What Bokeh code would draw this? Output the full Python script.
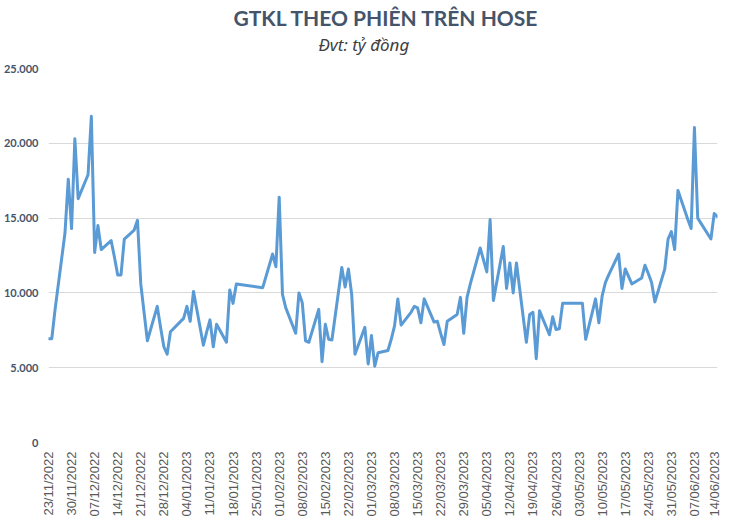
import math
import pandas as pd
from bokeh.plotting import figure
from bokeh.models import Range1d, FixedTicker, Title, ColumnDataSource, AllLabels
from bokeh.embed import file_html
from bokeh.resources import INLINE

# ---- data (tỷ đồng per session) ----
dates = [
    "23/11/2022", "24/11/2022", "25/11/2022", "28/11/2022", "29/11/2022", "30/11/2022",
    "01/12/2022", "02/12/2022", "05/12/2022", "06/12/2022", "07/12/2022", "08/12/2022",
    "09/12/2022", "12/12/2022", "13/12/2022", "14/12/2022", "15/12/2022", "16/12/2022",
    "19/12/2022", "20/12/2022", "21/12/2022", "22/12/2022", "23/12/2022", "26/12/2022",
    "27/12/2022", "28/12/2022", "29/12/2022", "30/12/2022", "03/01/2023", "04/01/2023",
    "05/01/2023", "06/01/2023", "09/01/2023", "10/01/2023", "11/01/2023", "12/01/2023",
    "13/01/2023", "16/01/2023", "17/01/2023", "18/01/2023", "19/01/2023", "27/01/2023",
    "30/01/2023", "31/01/2023", "01/02/2023", "02/02/2023", "03/02/2023", "06/02/2023",
    "07/02/2023", "08/02/2023", "09/02/2023", "10/02/2023", "13/02/2023", "14/02/2023",
    "15/02/2023", "16/02/2023", "17/02/2023", "20/02/2023", "21/02/2023", "22/02/2023",
    "23/02/2023", "24/02/2023", "27/02/2023", "28/02/2023", "01/03/2023", "02/03/2023",
    "03/03/2023", "06/03/2023", "07/03/2023", "08/03/2023", "09/03/2023", "10/03/2023",
    "13/03/2023", "14/03/2023", "15/03/2023", "16/03/2023", "17/03/2023", "20/03/2023",
    "21/03/2023", "22/03/2023", "23/03/2023", "24/03/2023", "27/03/2023", "28/03/2023",
    "29/03/2023", "30/03/2023", "31/03/2023", "03/04/2023", "04/04/2023", "05/04/2023",
    "06/04/2023", "07/04/2023", "10/04/2023", "11/04/2023", "12/04/2023", "13/04/2023",
    "14/04/2023", "17/04/2023", "18/04/2023", "19/04/2023", "20/04/2023", "21/04/2023",
    "24/04/2023", "25/04/2023", "26/04/2023", "27/04/2023", "28/04/2023", "04/05/2023",
    "05/05/2023", "08/05/2023", "09/05/2023", "10/05/2023", "11/05/2023", "12/05/2023",
    "15/05/2023", "16/05/2023", "17/05/2023", "18/05/2023", "19/05/2023", "22/05/2023",
    "23/05/2023", "24/05/2023", "25/05/2023", "26/05/2023", "29/05/2023", "30/05/2023",
    "31/05/2023", "01/06/2023", "02/06/2023", "05/06/2023", "06/06/2023", "07/06/2023",
    "08/06/2023", "09/06/2023", "12/06/2023", "13/06/2023", "14/06/2023",
]
values = [
    6940, 6940, 8900, 14000, 17600, 14300,
    20300, 16300, 17900, 21800, 12700, 14500,
    12900, 13500, 12400, 11200, 11200, 13600,
    14200, 14850, 10600, 8700, 6800, 9100,
    7700, 6400, 5900, 7400, 8300, 9100,
    8100, 10100, 6500, 7400, 8200, 6400,
    7900, 6700, 10200, 9300, 10600, 10350,
    12600, 11750, 16400, 9900, 9000, 7300,
    10000, 9350, 6800, 6700, 8900, 5400,
    7900, 6900, 6850, 11700, 10400, 11600,
    9900, 5900, 7700, 5250, 7150, 5100,
    6000, 6150, 6900, 7800, 9600, 7850,
    8700, 9100, 9000, 8000, 9600, 8050,
    8100, 7300, 6550, 8100, 8550, 9700,
    7300, 9700, 10600, 13000, 12200, 11400,
    14900, 9500, 13100, 10300, 12000, 10000,
    12000, 6700, 8550, 8700, 5600, 8800,
    7200, 8400, 7550, 7600, 9300, 9300,
    6900, 9600, 8000, 9800, 10700, 11200,
    12600, 10300, 11600, 11100, 10600, 11000,
    11850, 11300, 10700, 9400, 11600, 13600,
    14100, 12900, 16850, 14900, 14300, 21050,
    15000, 14650, 13600, 15300, 15100,
]
x_tick_labels = [
    "23/11/2022", "30/11/2022", "07/12/2022", "14/12/2022", "21/12/2022", "28/12/2022",
    "04/01/2023", "11/01/2023", "18/01/2023", "25/01/2023", "01/02/2023", "08/02/2023",
    "15/02/2023", "22/02/2023", "01/03/2023", "08/03/2023", "15/03/2023", "22/03/2023",
    "29/03/2023", "05/04/2023", "12/04/2023", "19/04/2023", "26/04/2023", "03/05/2023",
    "10/05/2023", "17/05/2023", "24/05/2023", "31/05/2023", "07/06/2023", "14/06/2023",
]
y_ticks = [0, 5000, 10000, 15000, 20000, 25000]
y_tick_labels = ["0", "5.000", "10.000", "15.000", "20.000", "25.000"]

title_text = "GTKL THEO PHIÊN TRÊN HOSE"
subtitle_text = "Đvt: tỷ đồng"

# ---- build ----
d = pd.to_datetime(dates, format="%d/%m/%Y")
t = pd.to_datetime(x_tick_labels, format="%d/%m/%Y")
origin = t[0]
x_days = [int((di - origin).days) for di in d]
tick_days = [int((ti - origin).days) for ti in t]

src = ColumnDataSource(data=dict(x=x_days, y=values))

p = figure(
    frame_width=669, frame_height=374,
    output_backend="svg", toolbar_location=None, title=None,
    x_range=Range1d(tick_days[0], tick_days[-1]),
    y_range=Range1d(y_ticks[0], y_ticks[-1]),
    min_border_left=40, min_border_right=4,
    min_border_top=68, min_border_bottom=76,
)

sub = Title(text=subtitle_text, align="left", text_font="Noto Sans",
            text_font_style="italic", text_font_size="17px",
            text_color="#404040", standoff=25, offset=270)
p.add_layout(sub, "above")
ttl = Title(text=title_text, align="left", text_font="Lato",
            text_font_style="bold", text_font_size="21px",
            text_color="#44546A", standoff=-23, offset=185)
p.add_layout(ttl, "above")

p.line(x="x", y="y", source=src, line_color="#5B9BD5", line_width=3,
       line_join="round", line_cap="round")

p.outline_line_color = None
p.background_fill_color = "white"
p.border_fill_color = "white"

p.xgrid.visible = False
p.ygrid.grid_line_color = "#D9D9D9"
p.ygrid.grid_line_width = 1

p.yaxis.ticker = FixedTicker(ticks=y_ticks)
p.yaxis.major_label_overrides = {v: s for v, s in zip(y_ticks, y_tick_labels)}
p.yaxis.axis_line_color = None
p.yaxis.major_tick_line_color = None
p.yaxis.minor_tick_line_color = None
p.yaxis.major_tick_out = 0
p.yaxis.major_tick_in = 0
p.yaxis.minor_tick_out = 0
p.yaxis.major_label_text_font = "Lato"
p.yaxis.major_label_text_font_style = "bold"
p.yaxis.major_label_text_font_size = "11px"
p.yaxis.major_label_text_color = "#44546A"
p.yaxis.major_label_standoff = 10

p.xaxis.ticker = FixedTicker(ticks=tick_days)
p.xaxis.major_label_overrides = {v: s for v, s in zip(tick_days, x_tick_labels)}
p.xaxis.major_label_policy = AllLabels()
p.xaxis.axis_line_color = None
p.xaxis.major_tick_line_color = None
p.xaxis.minor_tick_line_color = None
p.xaxis.major_tick_out = 0
p.xaxis.major_tick_in = 0
p.xaxis.minor_tick_out = 0
p.xaxis.major_label_orientation = math.pi / 2
p.xaxis.major_label_text_font = "Liberation Sans"
p.xaxis.major_label_text_font_size = "13px"
p.xaxis.major_label_text_color = "#595959"
p.xaxis.major_label_standoff = 9

open("out.html", "w").write(file_html(p, INLINE))
